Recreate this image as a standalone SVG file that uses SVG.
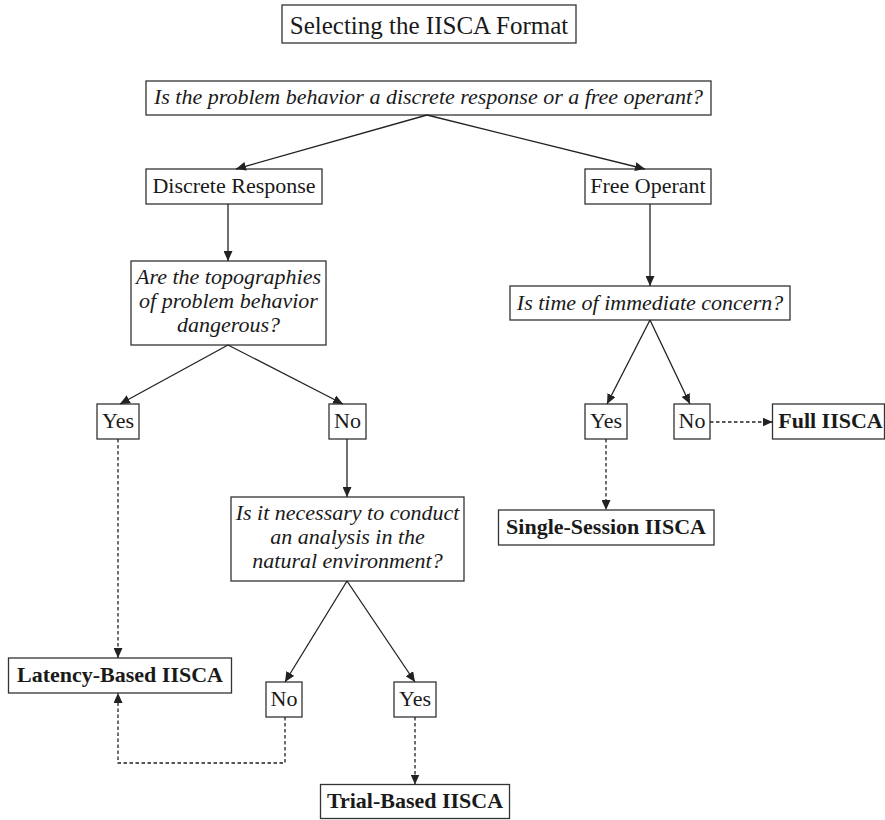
<svg xmlns="http://www.w3.org/2000/svg" width="885" height="820" viewBox="0 0 885 820">
  <style>
    .box { fill: #ffffff; stroke: #333333; stroke-width: 1.3; }
    .t { font-family: "Liberation Serif", "Times New Roman", serif; font-size: 22px; fill: #1a1a1a; text-anchor: middle; }
    .q { font-style: italic; }
    .b { font-weight: bold; }
    .title { font-size: 25px; }
    .edge { fill: none; stroke: #222222; stroke-width: 1.3; marker-end: url(#arrow); }
    .dot { stroke-dasharray: 3.5 2.5; }
  </style>
  <defs>
    <marker id="arrow" viewBox="0 0 10 9" refX="10" refY="4.5" markerWidth="10" markerHeight="9" markerUnits="userSpaceOnUse" orient="auto">
      <path d="M0,0 L10,4.5 L0,9 z" fill="#222222"/>
    </marker>
  </defs>

  <g id="title">
    <rect class="box" x="282" y="5" width="294" height="38"/>
    <text class="t title" x="429" y="34">Selecting the IISCA Format</text>
  </g>

  <g id="q-discrete-or-free">
    <rect class="box" x="146" y="81" width="565" height="34"/>
    <text class="t q" x="428.5" y="104">Is the problem behavior a discrete response or a free operant?</text>
  </g>

  <g id="discrete-response">
    <rect class="box" x="146" y="169" width="176" height="35"/>
    <text class="t" x="234" y="193">Discrete Response</text>
  </g>

  <g id="free-operant">
    <rect class="box" x="585" y="169" width="126" height="35"/>
    <text class="t" x="648" y="193">Free Operant</text>
  </g>

  <g id="q-dangerous">
    <rect class="box" x="131" y="261" width="195" height="84"/>
    <text class="t q" x="228.5" y="284">Are the topographies</text>
    <text class="t q" x="228.5" y="308">of problem behavior</text>
    <text class="t q" x="228.5" y="332">dangerous?</text>
  </g>

  <g id="q-time">
    <rect class="box" x="510" y="286" width="280" height="34"/>
    <text class="t q" x="650" y="310">Is time of immediate concern?</text>
  </g>

  <g id="dangerous-yes">
    <rect class="box" x="97" y="404" width="42" height="35"/>
    <text class="t" x="118" y="428">Yes</text>
  </g>

  <g id="dangerous-no">
    <rect class="box" x="329" y="404" width="37" height="35"/>
    <text class="t" x="347.5" y="428">No</text>
  </g>

  <g id="time-yes">
    <rect class="box" x="585" y="404" width="42" height="35"/>
    <text class="t" x="606" y="428">Yes</text>
  </g>

  <g id="time-no">
    <rect class="box" x="674" y="404" width="36" height="35"/>
    <text class="t" x="692" y="428">No</text>
  </g>

  <g id="full-iisca">
    <rect class="box" x="772.5" y="404" width="112" height="35"/>
    <text class="t b" x="830.5" y="428">Full IISCA</text>
  </g>

  <g id="q-natural">
    <rect class="box" x="231" y="497" width="233" height="84"/>
    <text class="t q" x="347.5" y="520">Is it necessary to conduct</text>
    <text class="t q" x="347.5" y="544">an analysis in the</text>
    <text class="t q" x="347.5" y="568">natural environment?</text>
  </g>

  <g id="single-session-iisca">
    <rect class="box" x="498.5" y="510" width="215.5" height="35"/>
    <text class="t b" x="606" y="534">Single-Session IISCA</text>
  </g>

  <g id="latency-based-iisca">
    <rect class="box" x="8.5" y="658" width="223" height="35"/>
    <text class="t b" x="120" y="682">Latency-Based IISCA</text>
  </g>

  <g id="natural-no">
    <rect class="box" x="266" y="682" width="36" height="35"/>
    <text class="t" x="284" y="706">No</text>
  </g>

  <g id="natural-yes">
    <rect class="box" x="394" y="682" width="42" height="35"/>
    <text class="t" x="415" y="706">Yes</text>
  </g>

  <g id="trial-based-iisca">
    <rect class="box" x="320.5" y="784.5" width="189" height="34"/>
    <text class="t b" x="415" y="808">Trial-Based IISCA</text>
  </g>

  <g id="connectors">
    <path class="edge" d="M427,115 L236,169"/>
    <path class="edge" d="M427,115 L645,169"/>
    <path class="edge" d="M228,204 L228,261"/>
    <path class="edge" d="M650,204 L650,286"/>
    <path class="edge" d="M228,345 L120,404"/>
    <path class="edge" d="M228,345 L343,404"/>
    <path class="edge" d="M347,439 L347,497"/>
    <path class="edge" d="M347,581 L285,682"/>
    <path class="edge" d="M347,581 L415,682"/>
    <path class="edge" d="M650,320 L607,404"/>
    <path class="edge" d="M650,320 L690,404"/>
    <path class="edge dot" d="M118,439 L118,658"/>
    <path class="edge dot" d="M285,717 L285,763 L118,763 L118,693"/>
    <path class="edge dot" d="M415,717 L415,784.5"/>
    <path class="edge dot" d="M606,439 L606,510"/>
    <path class="edge dot" d="M710,422 L772.5,422"/>
  </g>
</svg>
